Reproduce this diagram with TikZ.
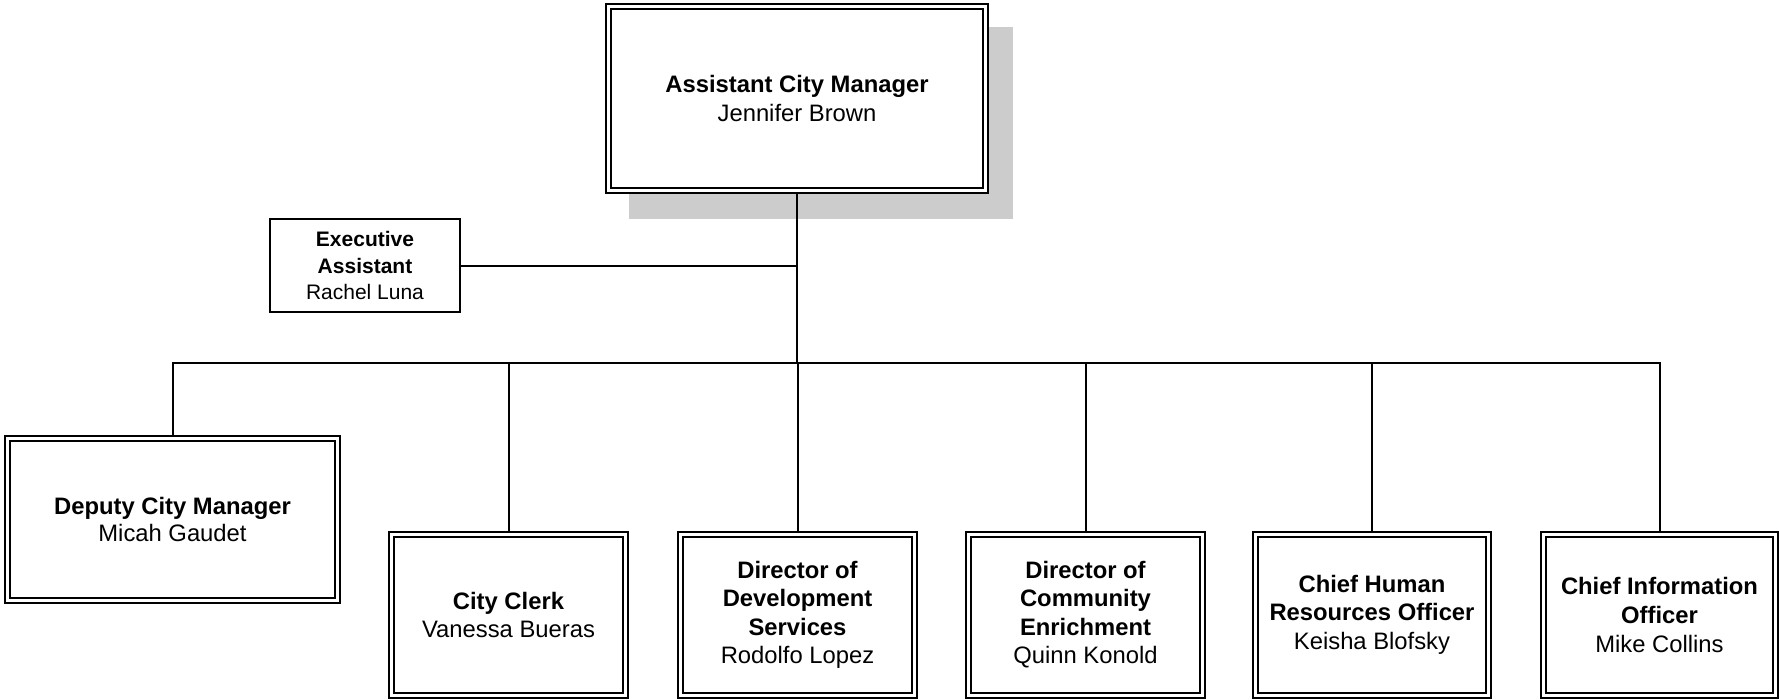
\documentclass[tikz,border=0pt]{standalone}
\usepackage{fontspec}
\setmainfont{Liberation Sans}
\definecolor{shadowgray}{HTML}{CCCCCC}
\begin{document}
\begin{tikzpicture}[x=1pt,y=-1pt,
  conn/.style={line width=2pt},
  txt/.style={font=\fontsize{23.8}{#1}\selectfont},
  dbox/.style 2 args={draw, double, double distance=3pt, line width=1.9pt,
    inner sep=0pt, outer sep=3.4pt, align=center, fill=white,
    minimum width=#1, minimum height=#2},
  sbox/.style={draw, line width=2pt, inner sep=0pt, align=center, fill=white,
    minimum width=190pt, minimum height=93pt, font=\fontsize{21}{26.2}\selectfont}]
\useasboundingbox (0,0) rectangle (1780,699);
% shadow of top box
\fill[shadowgray] (629,27) rectangle (1013,218.5);
% nodes
\node[dbox={377.2pt}{184.2pt}, txt=29pt] (acm) at (797,98.5)
  {\textbf{Assistant City Manager}\\Jennifer Brown};
\node[sbox] (ea) at (365,265.5)
  {\textbf{Executive}\\\textbf{Assistant}\\Rachel Luna};
\node[dbox={330.2pt}{162.2pt}, txt=27.3pt] (dep) at (172.5,519.5)
  {\textbf{Deputy City Manager}\\Micah Gaudet};
\node[dbox={234.2pt}{160.7pt}, txt=28pt] (clk) at (508.5,614.75)
  {\textbf{City Clerk}\\Vanessa Bueras};
\node[dbox={234.2pt}{160.7pt}, txt=28.4pt] (dev) at (797.5,614.75)
  {\textbf{Director of}\\\textbf{Development}\\\textbf{Services}\\Rodolfo Lopez};
\node[dbox={234.2pt}{160.7pt}, txt=28.4pt] (com) at (1085.5,614.75)
  {\textbf{Director of}\\\textbf{Community}\\\textbf{Enrichment}\\Quinn Konold};
\node[dbox={233.2pt}{160.7pt}, txt=28.6pt] (hr) at (1372,614.75)
  {\textbf{Chief Human}\\\textbf{Resources Officer}\\Keisha Blofsky};
\node[dbox={232.2pt}{160.7pt}, txt=29pt] (cio) at (1659.5,614.75)
  {\textbf{Chief Information}\\\textbf{Officer}\\Mike Collins};
% connectors
\coordinate (bus) at (797,363);
\draw[conn] (acm.south) -- (bus);
\draw[conn] (ea.east) -- (ea.east -| acm.south);
\foreach \n in {dep,clk,dev,com,hr,cio} \draw[conn] (\n.north) |- (bus);
\end{tikzpicture}
\end{document}
